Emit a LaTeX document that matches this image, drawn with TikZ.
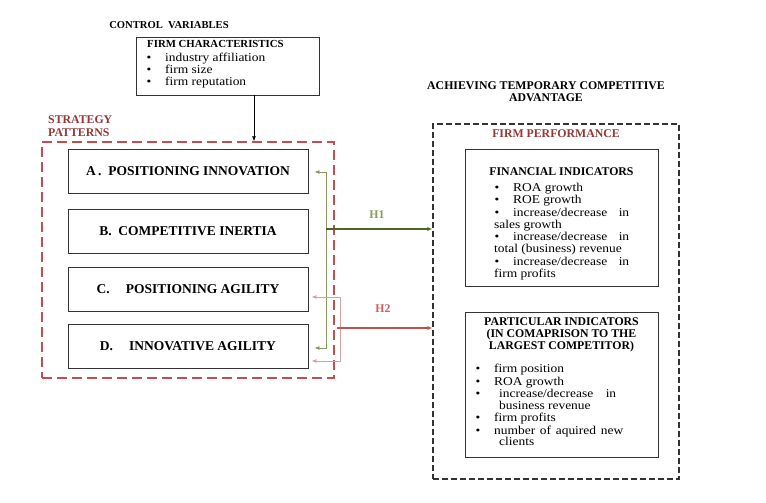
\documentclass[tikz,border=0pt]{standalone}
\usepackage{fontspec}
\setmainfont{Liberation Serif}
\newfontfamily\bodyfont{Liberation Serif}[FakeStretch=1.12]
\usetikzlibrary{arrows.meta}

\definecolor{darkred}{HTML}{953735}
\definecolor{boxred}{HTML}{C0504D}
\definecolor{hgreen}{HTML}{4F6228}
\definecolor{hlight}{HTML}{8A9A5B}
\definecolor{hpink}{HTML}{D9A0A8}

\tikzset{
  patbox/.style={draw=black!80, line width=0.9pt, minimum width=240pt,
    minimum height=44pt, font=\fontsize{13.5}{15}\selectfont\bfseries},
  indbox/.style={draw=black!80, line width=0.9pt, minimum width=193pt},
  item/.style={anchor=base west, inner sep=0pt,
    font=\bodyfont\fontsize{12}{13}\selectfont},
  dot/.style={item, anchor=base},
  ttl/.style={anchor=base, inner sep=0pt,
    font=\fontsize{11.8}{13}\selectfont\bfseries},
  tip/.style={-{Latex[length=5pt,width=4pt]}}
}

\begin{document}
\begin{tikzpicture}[x=1pt, y=-1pt]

  \useasboundingbox (0,0) rectangle (766,503);

  % control variables
  \node[ttl, font=\fontsize{10.6}{12}\selectfont\bfseries] (ctl) at (169,29) {CONTROL\ \ VARIABLES};
  \node[draw=black!80, line width=0.9pt, minimum width=183pt, minimum height=58pt] (fc) at (227.5,66) {};
  \node[ttl, anchor=base west, font=\fontsize{10.8}{12}\selectfont\bfseries] (fctl) at (147,48) {FIRM CHARACTERISTICS};
  \foreach \y/\t in {62/industry affiliation, 73.5/firm size, 85/firm reputation}{
    \node[dot] at (149,\y) {\textbullet};
    \node[item] at (165,\y) {\t};}

  % strategy patterns
  \node[draw=boxred, line width=1.4pt, dash pattern=on 10pt off 5pt,
    minimum width=292pt, minimum height=236pt] (sp) at (188,260) {};
  \begin{scope}[darkred]
    \node[ttl, anchor=base west] (spt1) at (48,123) {STRATEGY};
    \node[ttl, anchor=base west] (spt2) at (48,136) {PATTERNS};
  \end{scope}

  \node[patbox] (a) at (188,171) {A\,.\ \ POSITIONING INNOVATION};
  \node[patbox] (b) at (188,231) {B.\ \ COMPETITIVE INERTIA};
  \node[patbox] (c) at (188,289.5) {C.\hspace{16pt}POSITIONING AGILITY};
  \node[patbox] (d) at (188,346) {D.\hspace{16pt}INNOVATIVE AGILITY};

  \draw[tip, line width=0.8pt] ([xshift=26.5pt]fc.south) -- ([xshift=26.5pt]fc.south |- sp.north);

  % firm performance
  \node[ttl] (adv1) at (546,89) {ACHIEVING TEMPORARY COMPETITIVE};
  \node[ttl] (adv2) at (546,102) {ADVANTAGE};
  \node[draw=black!80, line width=1.1pt, dash pattern=on 6pt off 3pt,
    minimum width=246pt, minimum height=355pt] (fp) at (556,301.5) {};
  \node[ttl, darkred] (fpt) at (556,137) {FIRM PERFORMANCE};

  \node[indbox, minimum height=137pt] (fin) at (561.5,217.5) {};
  \node[ttl] (fint) at (561.5,175) {FINANCIAL INDICATORS};
  \foreach \y/\t in {191/ROA growth, 203/ROE growth}{
    \node[dot] at (497,\y) {\textbullet};
    \node[item] at (513,\y) {\t};}
  \foreach \y in {216,240,265}{
    \node[dot] at (497,\y) {\textbullet};
    \node[item] at (513,\y) {\makebox[116pt][s]{increase/decrease in}};}
  \foreach \y/\t in {228/sales growth, 252.5/total (business) revenue, 277/firm profits}
    \node[item] at (494,\y) {\t};

  \node[indbox, minimum height=145pt] (par) at (561.5,384.5) {};
  \node[ttl] (part1) at (561.5,325) {PARTICULAR INDICATORS};
  \node[ttl] (part2) at (561.5,337) {(IN COMAPRISON TO THE};
  \node[ttl] (part3) at (561.5,349) {LARGEST COMPETITOR)};
  \foreach \y in {372.7,385,397.7,421.7,434}
    \node[dot] at (478,\y) {\textbullet};
  \foreach \y/\t in {372.7/firm position, 385/ROA growth, 421.7/firm profits}
    \node[item] at (494,\y) {\t};
  \node[item] at (499,397.7) {\makebox[117pt][s]{increase/decrease in}};
  \node[item] at (494,434) {\makebox[129pt][s]{number of aquired new}};
  \foreach \y/\t in {409/business revenue, 445.7/clients}
    \node[item] at (499,\y) {\t};

  % hypotheses
  \coordinate (h1) at (326,229);
  \coordinate (h2) at (340,328);

  \begin{scope}[hlight, line width=0.8pt, tip]
    \draw (h1) |- ([xshift=6pt,yshift=-1pt]a.east);
    \draw (h1) |- ([xshift=6pt,yshift=-2pt]d.east);
  \end{scope}
  \draw[hgreen, line width=1.8pt, tip] (h1) -- (h1 -| fp.west);

  \begin{scope}[hpink, line width=0.8pt, tip]
    \draw (h2) |- ([xshift=3pt,yshift=-7.5pt]c.east);
    \draw (h2) |- ([xshift=3pt,yshift=-15pt]d.east);
  \end{scope}
  \draw[boxred, line width=1.8pt, tip] ([xshift=-3pt]h2) -- (h2 -| fp.west);

  \node[ttl, hlight] (h1t) at (377,218) {H1};
  \node[ttl, boxred!90] (h2t) at (383,312) {H2};
\end{tikzpicture}
\end{document}
